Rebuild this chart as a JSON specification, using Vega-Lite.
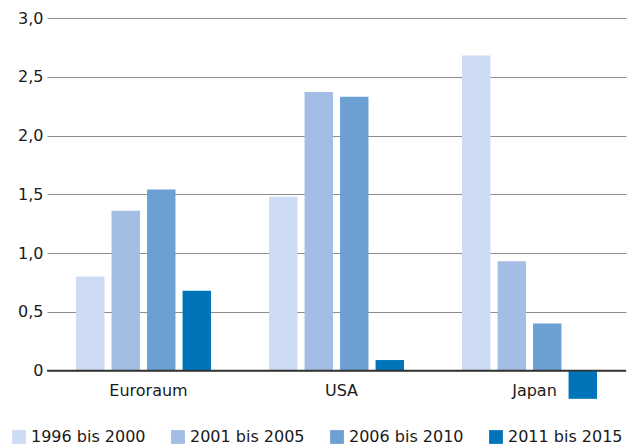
{
  "$schema": "https://vega.github.io/schema/vega-lite/v6.json",
  "width": 579,
  "height": 382,
  "autosize": {"type": "none"},
  "padding": {"left": 47, "top": 18, "right": 4, "bottom": 46},
  "background": "white",
  "config": {
    "view": {"stroke": null},
    "font": "DejaVu Sans",
    "text": {"font": "DejaVu Sans"}
  },
  "datasets": {
    "bars": [
      {"region": "Euroraum", "period": "1996 bis 2000", "value": 0.80},
      {"region": "Euroraum", "period": "2001 bis 2005", "value": 1.36},
      {"region": "Euroraum", "period": "2006 bis 2010", "value": 1.54},
      {"region": "Euroraum", "period": "2011 bis 2015", "value": 0.68},
      {"region": "USA", "period": "1996 bis 2000", "value": 1.48},
      {"region": "USA", "period": "2001 bis 2005", "value": 2.37},
      {"region": "USA", "period": "2006 bis 2010", "value": 2.33},
      {"region": "USA", "period": "2011 bis 2015", "value": 0.09},
      {"region": "Japan", "period": "1996 bis 2000", "value": 2.68},
      {"region": "Japan", "period": "2001 bis 2005", "value": 0.93},
      {"region": "Japan", "period": "2006 bis 2010", "value": 0.40},
      {"region": "Japan", "period": "2011 bis 2015", "value": -0.24}
    ],
    "groups": [
      {"region": "Euroraum"},
      {"region": "USA"},
      {"region": "Japan"}
    ],
    "zero": [{"v": 0}]
  },
  "layer": [
    {
      "data": {"name": "bars"},
      "mark": {"type": "bar"},
      "encoding": {
        "x": {
          "field": "region",
          "type": "nominal",
          "sort": ["Euroraum", "USA", "Japan"],
          "scale": {"paddingInner": 0.264, "paddingOuter": 0.132},
          "axis": null
        },
        "xOffset": {
          "field": "period",
          "type": "nominal",
          "scale": {"paddingInner": 0.2, "paddingOuter": 0.1}
        },
        "y": {
          "field": "value",
          "type": "quantitative",
          "scale": {"domain": [-0.25, 3.0], "nice": false, "zero": false},
          "axis": {
            "title": null,
            "values": [0, 0.5, 1, 1.5, 2, 2.5, 3],
            "labelExpr": "datum.value == 0 ? '0' : replace(format(datum.value, '.1f'), '.', ',')",
            "domain": false,
            "ticks": false,
            "labelPadding": 4,
            "labelFont": "DejaVu Sans",
            "labelFontSize": 16,
            "labelColor": "#1a1a1a",
            "labelBaseline": "middle",
            "grid": true,
            "gridColor": "#8c8c8c",
            "gridWidth": 1
          }
        },
        "color": {
          "field": "period",
          "type": "nominal",
          "scale": {
            "domain": ["1996 bis 2000", "2001 bis 2005", "2006 bis 2010", "2011 bis 2015"],
            "range": ["#cddbf3", "#a3bde4", "#6c9fd2", "#0074b8"]
          },
          "legend": {
            "title": null,
            "orient": "none",
            "direction": "horizontal",
            "columns": 4,
            "columnPadding": 24,
            "legendX": -36,
            "legendY": 411,
            "padding": 0,
            "symbolType": "square",
            "symbolSize": 190,
            "symbolStrokeWidth": 0,
            "labelOffset": 4,
            "labelFont": "DejaVu Sans",
            "labelFontSize": 16,
            "labelColor": "#1a1a1a"
          }
        }
      }
    },
    {
      "data": {"name": "zero"},
      "mark": {"type": "rule", "color": "#333333", "strokeWidth": 1.6},
      "encoding": {
        "y": {"field": "v", "type": "quantitative"}
      }
    },
    {
      "data": {"name": "groups"},
      "mark": {
        "type": "text",
        "font": "DejaVu Sans",
        "fontSize": 16,
        "color": "#1a1a1a",
        "baseline": "alphabetic",
        "align": "center",
        "dx": 5,
        "dy": 25
      },
      "encoding": {
        "x": {"field": "region", "type": "nominal", "sort": ["Euroraum", "USA", "Japan"]},
        "y": {"datum": 0, "type": "quantitative"},
        "text": {"field": "region"}
      }
    }
  ]
}
